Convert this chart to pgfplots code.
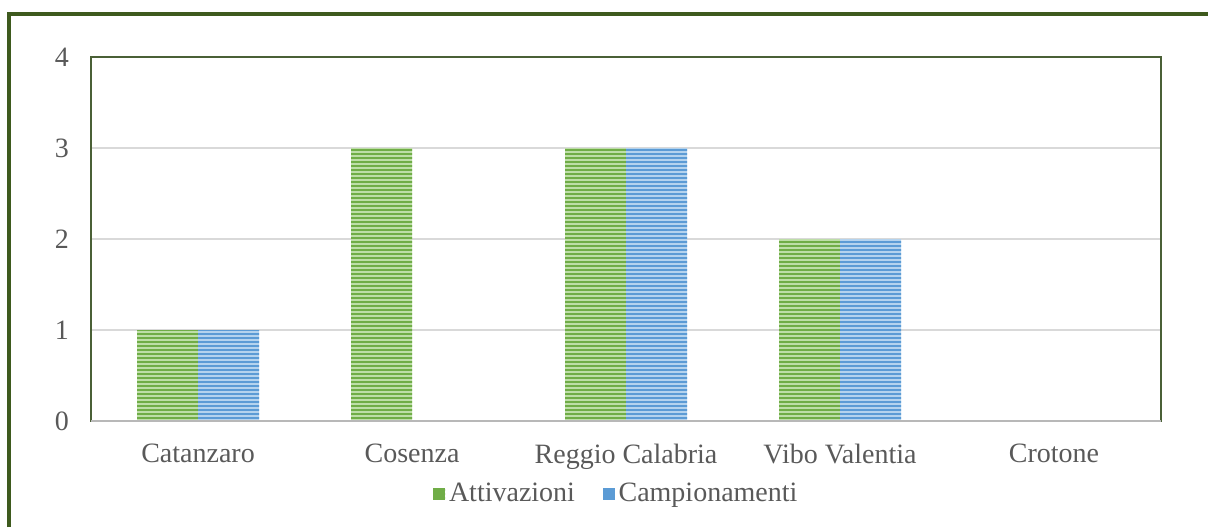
\documentclass[border=0pt]{standalone}
\usepackage{fontspec}
\setmainfont{Liberation Serif}
\usepackage{pgfplots}
\pgfplotsset{compat=1.18}
\usetikzlibrary{patterns.meta}
\definecolor{frameg}{RGB}{62,90,30}
\definecolor{axg}{RGB}{74,96,54}
\definecolor{gbase}{RGB}{112,173,71}
\definecolor{glight}{RGB}{190,222,168}
\definecolor{bbase}{RGB}{91,155,213}
\definecolor{blight}{RGB}{180,211,238}
\definecolor{txt}{RGB}{89,89,89}
\tikzdeclarepattern{
  name=hstripes,
  type=uncolored,
  bounding box={(-0.1pt,-0.6pt) and (1.1pt,1.6pt)},
  tile size={(1pt,2pt)},
  code={\draw[line width=1pt] (-0.1pt,0.5pt) -- (1.1pt,0.5pt);}
}
\begin{document}
\begin{tikzpicture}
\path[use as bounding box] (0,0) rectangle (604pt,263.5pt);
\begin{axis}[
  at={(45.5pt,53pt)}, anchor=south west,
  scale only axis, width=535pt, height=182pt,
  xmin=-0.5, xmax=4.5, ymin=0, ymax=4,
  ytick={0,1,2,3,4},
  xtick={0,1,2,3,4},
  xticklabels={Catanzaro,Cosenza,Reggio Calabria,Vibo Valentia,Crotone},
  major tick length=0pt,
  ybar=0pt, bar width=30.5pt,
  ymajorgrids, grid style={draw=black!15, line width=1pt},
  axis line style={draw=axg, line width=1pt},
  tick label style={font=\fontsize{14}{16}\selectfont, text=txt},
  /pgf/number format/assume math mode=true,
  xticklabel style={yshift=-8pt},
  yticklabel style={xshift=-7.5pt},
  legend style={at={(0.492,-0.2)}, anchor=center, draw=none, legend columns=-1,
    font=\fontsize{14}{16}\selectfont, text=txt, /tikz/every even column/.append style={column sep=12pt}},
  legend image code/.code={\fill[#1] (0pt,-2.9pt) rectangle (5.8pt,2.9pt);},
]
\addplot[draw=none, fill=glight, postaction={pattern=hstripes, pattern color=gbase}, legend image post style={fill=gbase}] coordinates {(0,1) (1,3) (2,3) (3,2) (4,0)};
\addplot[draw=none, fill=blight, postaction={pattern=hstripes, pattern color=bbase}, legend image post style={fill=bbase}] coordinates {(0,1) (1,0) (2,3) (3,2) (4,0)};
\legend{Attivazioni,Campionamenti}
\draw[draw=black!28, line width=1.5pt] (rel axis cs:0,0) -- (rel axis cs:1,0);
\end{axis}
\draw[frameg, line width=1.6pt] (4.5pt,0) -- (4.5pt,256.5pt) -- (604pt,256.5pt);
\end{tikzpicture}
\end{document}
